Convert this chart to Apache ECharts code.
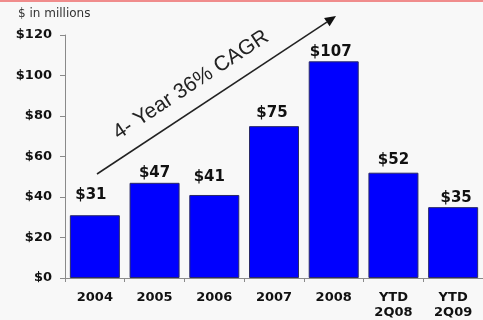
<!DOCTYPE html>
<html>
<head>
<meta charset="utf-8">
<script src="https://cdn.jsdelivr.net/npm/echarts@6/dist/echarts.min.js"></script>
<style>
  html, body { margin: 0; padding: 0; background: #f8f8f8; }
  #chart { width: 483px; height: 320px; }
</style>
</head>
<body>
<div id="chart"></div>
<script>
// Revenue by period, $ in millions
var categories = ['2004', '2005', '2006', '2007', '2008', 'YTD\n2Q08', 'YTD\n2Q09'];
var revenue = [31, 47, 41, 75, 107, 52, 35];
var yTicks = { min: 0, max: 120, step: 20 };
var unitNote = '$ in millions';
var growthNote = '4- Year 36% CAGR';

// small per-label nudges so the value labels sit where the slide placed them
var labelNudge = [[-4, -9], [0, 2], [-5, -6], [-2, -2], [-3, 2], [0, -1], [3, 2]];

var chart = echarts.init(document.getElementById('chart'));

// growth arrow geometry (annotation, in pixels)
var arrowFrom = [97, 174], arrowTo = [336, 16];
var ang = Math.atan2(arrowTo[1] - arrowFrom[1], arrowTo[0] - arrowFrom[0]);
var headLen = 11, headHalf = 5;
var ux = Math.cos(ang), uy = Math.sin(ang);
var baseX = arrowTo[0] - ux * headLen, baseY = arrowTo[1] - uy * headLen;
var head = [
  arrowTo,
  [baseX - uy * headHalf, baseY + ux * headHalf],
  [baseX + uy * headHalf, baseY - ux * headHalf]
];

var option = {
  backgroundColor: '#f8f8f8',
  animation: false,
  grid: { left: 65, top: 35, width: 423, height: 244 },
  xAxis: {
    type: 'category',
    data: categories,
    axisLine: { lineStyle: { color: '#8a8a8a', width: 1 } },
    axisTick: { show: true, length: 4, lineStyle: { color: '#8a8a8a' } },
    axisLabel: {
      color: '#111', fontFamily: 'DejaVu Sans', fontWeight: 'bold',
      fontSize: 13, lineHeight: 15, margin: 12
    }
  },
  yAxis: {
    type: 'value',
    min: yTicks.min, max: yTicks.max, interval: yTicks.step,
    splitLine: { show: false },
    axisLine: { show: true, lineStyle: { color: '#8a8a8a', width: 1 } },
    axisTick: { show: true, length: 5, lineStyle: { color: '#8a8a8a' } },
    axisLabel: {
      color: '#111', fontFamily: 'DejaVu Sans', fontWeight: 'bold',
      fontSize: 13, margin: 13,
      formatter: function (v) { return '$' + v; }
    }
  },
  series: [{
    type: 'bar',
    barWidth: 50,
    data: revenue.map(function (v, i) {
      return { value: v, label: { offset: labelNudge[i] } };
    }),
    itemStyle: { color: '#0000ff', borderColor: '#2a2a66', borderWidth: 1 },
    label: {
      show: true, position: 'top', distance: 4,
      color: '#111', fontFamily: 'DejaVu Sans', fontWeight: 'bold', fontSize: 15,
      formatter: function (p) { return '$' + p.value; }
    }
  }],
  graphic: [
    { type: 'rect', left: 0, top: 0, shape: { width: 483, height: 2 },
      style: { fill: '#f08c8c' }, z: 10 },
    { type: 'text', left: 18, top: 8,
      style: { text: unitNote, fill: '#333', font: '12px "DejaVu Sans"' } },
    { type: 'line', shape: { x1: arrowFrom[0], y1: arrowFrom[1], x2: baseX, y2: baseY },
      style: { stroke: '#222', lineWidth: 1.5 } },
    { type: 'polygon', shape: { points: head }, style: { fill: '#111' } },
    { type: 'text', x: 191, y: 85, rotation: -ang,
      style: { text: growthNote, fill: '#222', font: '21px "Liberation Sans"',
               align: 'center', verticalAlign: 'middle' } }
  ]
};

chart.setOption(option);
</script>
</body>
</html>
